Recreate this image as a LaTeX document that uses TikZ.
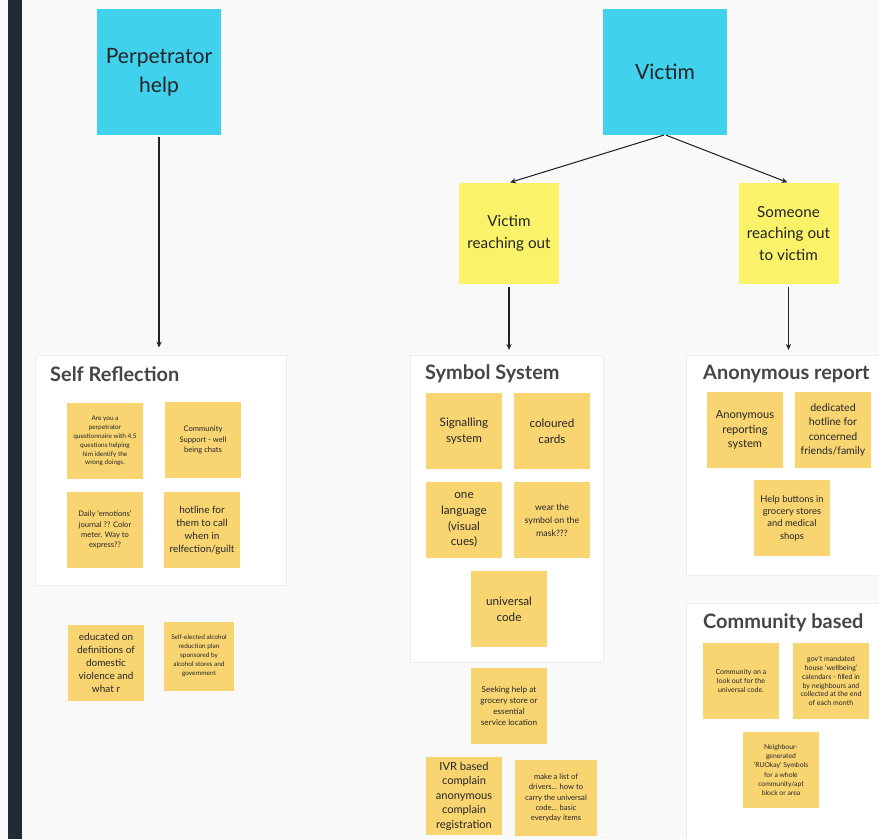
\documentclass[tikz,border=0pt]{standalone}
\usepackage{fontspec}
\setmainfont{Lato}
\definecolor{board}{RGB}{249,249,250}
\definecolor{rail}{RGB}{34,42,54}
\definecolor{headcyan}{RGB}{64,210,236}
\definecolor{lemon}{RGB}{250,242,104}
\definecolor{sticky}{RGB}{249,213,114}
\definecolor{ink}{RGB}{36,36,40}
\definecolor{frame}{RGB}{235,237,240}
\usetikzlibrary{arrows.meta}

\tikzset{
  headbox/.style={fill=headcyan,minimum width=3.72cm,minimum height=3.75cm,align=center,text=ink,font=\fontsize{18}{24.5}\selectfont},
  branchbox/.style={fill=lemon,minimum width=3cm,minimum height=3.03cm,align=center,text=ink,font=\fontsize{13}{18.5}\selectfont},
  panelbox/.style={fill=white,draw=frame,line width=0.8pt,inner sep=0pt},
  paneltitle/.style={anchor=west,inner sep=0pt,text=ink!85,font=\fontsize{17}{20}\selectfont\bfseries},
  note/.style={fill=sticky,minimum width=2.3cm,minimum height=2.3cm,align=center,inner sep=1pt,text=ink},
  bignote/.style={note,font=\fontsize{10}{13.5}\selectfont},
  midnote/.style={note,font=\fontsize{8.5}{11}\selectfont},
  smallnote/.style={note,font=\fontsize{6.5}{8.8}\selectfont},
  tinynote/.style={note,font=\fontsize{5.5}{7.6}\selectfont},
  link/.style={-{Stealth[length=5pt,width=4.5pt]},ink,line width=0.9pt}
}

\begin{document}
\begin{tikzpicture}[x=0.03cm,y=-0.03cm]
  \useasboundingbox (0,0) rectangle (879,839);
  \fill[board] (0,0) rectangle (879,839);
  \fill[rail] (8,0) rectangle (22,839);

  % panels
  \node[panelbox,minimum width=7.53cm,minimum height=6.9cm] (selfpanel) at (160.5,470) {};
  \node[panelbox,minimum width=5.79cm,minimum height=9.21cm] (sympanel) at (506.5,508.5) {};
  \node[panelbox,minimum width=5.97cm,minimum height=6.6cm] (anonpanel) at (785.5,465) {};
  \node[panelbox,minimum width=5.97cm,minimum height=7.5cm] (commpanel) at (785.5,728) {};
  \node[paneltitle] (selftitle) at (50,374) {Self Reflection};
  \node[paneltitle] (symtitle) at (425,374) {Symbol System};
  \node[paneltitle] (anontitle) at (703,374) {Anonymous report};
  \node[paneltitle] (commtitle) at (703,623) {Community based};

  % top of the tree
  \node[headbox] (perp) at (159,72) {Perpetrator\\help};
  \node[headbox] (victim) at (665,72) {Victim};
  \node[branchbox] (vro) at (509,233.5) {Victim\\reaching out};
  \node[branchbox] (srov) at (788.5,233.5) {Someone\\reaching out\\to victim};

  \draw[link,shorten <=2pt,shorten >=6pt] (perp.south) -- (perp.south |- selfpanel.north);
  \draw[link,shorten <=1pt,shorten >=1pt] (victim.south) -- (vro.north);
  \draw[link,shorten <=1pt,shorten >=1pt] (victim.south) -- (srov.north);
  \draw[link,shorten <=2pt,shorten >=4pt] (vro.south) -- (vro.south |- sympanel.north);
  \draw[link,shorten <=2pt,shorten >=4pt] (srov.south) -- (srov.south |- anonpanel.north);

  % self reflection
  \node[tinynote] (quiz) at (105,441) {Are you a\\perpetrator\\questionnaire with 4,5\\questions helping\\him identify the\\wrong doings.};
  \node[smallnote] (chats) at (203,440) {Community\\Support - well\\being chats};
  \node[smallnote] (journal) at (105,530) {Daily ‘emotions’\\journal ?? Color\\meter. Way to\\express??};
  \node[midnote] (guilt) at (202,530) {hotline for\\them to call\\when in\\relfection/guilt};
  \node[midnote] (educated) at (106,663) {educated on\\definitions of\\domestic\\violence and\\what r};
  \node[tinynote,minimum width=2.1cm,minimum height=2.07cm] (alcohol) at (199,656) {Self-elected alcohol\\reduction plan\\sponsored by\\alcohol stores and\\government};

  % symbol system
  \node[bignote] (signal) at (464,431) {Signalling\\system};
  \node[bignote] (cards) at (552,431) {coloured\\cards};
  \node[bignote] (language) at (464,520) {one\\language\\(visual\\cues)};
  \node[note,font=\fontsize{7.5}{11}\selectfont] (mask) at (552,520) {wear the\\symbol on the\\mask???};
  \node[bignote] (code) at (509,609) {universal\\code};
  \node[note,font=\fontsize{7}{9.4}\selectfont] (grocery) at (509,706) {Seeking help at\\grocery store or\\essential\\service location};
  \node[note,font=\fontsize{9.5}{12.4}\selectfont,minimum height=2.34cm] (ivr) at (464,796) {IVR based\\complain\\anonymous\\complain\\registration};
  \node[smallnote,minimum width=2.46cm] (drivers) at (556,798) {make a list of\\drivers... how to\\carry the universal\\code... basic\\everyday items};

  % anonymous report
  \node[note,font=\fontsize{9.5}{12.7}\selectfont] (reporting) at (745,430) {Anonymous\\reporting\\system};
  \node[note,font=\fontsize{9}{12}\selectfont] (hotline) at (833,430) {dedicated\\hotline for\\concerned\\friends/family};
  \node[midnote,font=\fontsize{8}{10.6}\selectfont] (buttons) at (792,518) {Help buttons in\\grocery stores\\and medical\\shops};

  % community based
  \node[note,font=\fontsize{6}{7.7}\selectfont] (lookout) at (741,681) {Community on a\\look out for the\\universal code.};
  \node[note,font=\fontsize{6}{7.4}\selectfont] (calendar) at (831,681) {gov't mandated\\house ‘wellbeing’\\calendars - filled in\\by neighbours and\\collected at the end\\of each month};
  \node[tinynote,font=\fontsize{5.8}{8}\selectfont] (ruokay) at (781,770) {Neighbour-\\generated\\‘RUOkay’ Symbols\\for a whole\\community/apt\\block or area};
\end{tikzpicture}
\end{document}
